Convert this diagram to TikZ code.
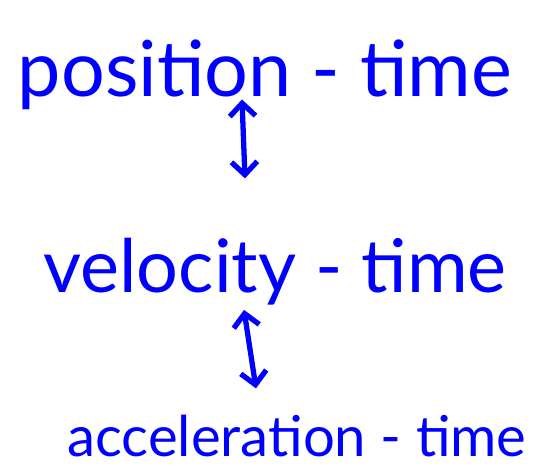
\documentclass[tikz,border=0pt]{standalone}
\usepackage{fontspec}
\setmainfont{Lato}
\usetikzlibrary{arrows.meta}
\definecolor{ink}{RGB}{0,0,255}
\tikzset{
  lbl/.style={text=ink, inner sep=0pt, anchor=base},
  biarrow/.style={draw=ink, line width=4.5pt, line cap=round, line join=round,
    {Straight Barb[length=11pt,width=22pt,line width=4.5pt]}-{Straight Barb[length=11pt,width=22pt,line width=4.5pt]}}
}
\begin{document}
\begin{tikzpicture}[x=0.03cm, y=-0.03cm]
\useasboundingbox (0,0) rectangle (534,467);
\node[lbl, font=\fontsize{66}{66}\selectfont] (pos) at (265,96) {position - time};
\node[lbl, font=\fontsize{63}{63}\selectfont] (vel) at (275,292) {velocity - time};
\node[lbl, font=\fontsize{48}{48}\selectfont] (acc) at (297,456) {acceleration - time};
\draw[biarrow] ([xshift=-0.69cm, yshift=0.3cm]pos.south) -- ([xshift=-0.9cm, yshift=1.77cm]vel.north);
\draw[biarrow] ([xshift=-0.93cm, yshift=-0.15cm]vel.south) -- ([xshift=-1.23cm, yshift=0.78cm]acc.north);
\end{tikzpicture}
\end{document}
